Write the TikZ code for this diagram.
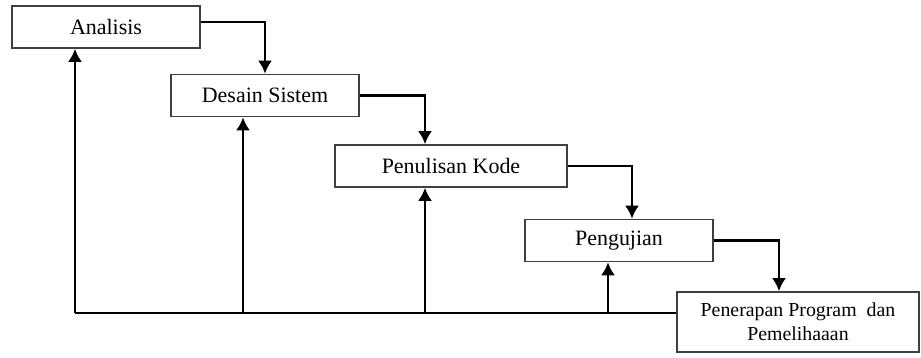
\documentclass[tikz,border=0pt]{standalone}
\usepackage{fontspec}
\setmainfont{Liberation Serif}
\usetikzlibrary{arrows.meta}

\begin{document}
\begin{tikzpicture}[>={Latex[length=0.26cm,width=0.28cm]},x=0.02cm,y=-0.02cm]
\tikzset{
	tahap/.style={draw=black!75,line width=1pt,minimum height=0.84cm,
		inner sep=0pt,align=center,font=\fontsize{12.5}{14}\selectfont},
	alur/.style={->,line width=1.3pt}
}
\useasboundingbox (0,0) rectangle (921,358);
\node(analisis)[tahap,minimum width=3.76cm] at (106,27){Analisis};
\node(desain)[tahap,minimum width=3.76cm] at (265,95.5){Desain Sistem};
\node(penulisan)[tahap,minimum width=4.64cm] at (451,166){Penulisan Kode};
\node(pengujian)[tahap,minimum width=3.76cm] at (619,240.5){Pengujian};
\node(penerapan)[tahap,minimum width=4.84cm,minimum height=1.2cm,
	font=\fontsize{11.3}{13.6}\selectfont] at (798,322)
	{Penerapan Program\ \ dan\\Pemelihaaan};
% alur turun
\draw[alur] ([yshift=0.1cm]analisis.east) -| (desain.north);
\draw[alur] (desain.east) -| (penulisan.north -| 425,0);
\draw[alur] (penulisan.east) -| (pengujian.north -| 632,0);
\draw[alur] (pengujian.east) -| (penerapan.north -| 779,0);
% alur balik
\coordinate (dasar) at (75,313);
\draw[line width=1pt] (penerapan.west |- dasar) -- (dasar);
\draw[alur] (dasar) -- (analisis.south -| dasar);
\foreach \x/\n in {243/desain,425/penulisan,608/pengujian}
	\draw[alur] (dasar -| \x,0) -- (\n.south -| \x,0);
\end{tikzpicture}
\end{document}
